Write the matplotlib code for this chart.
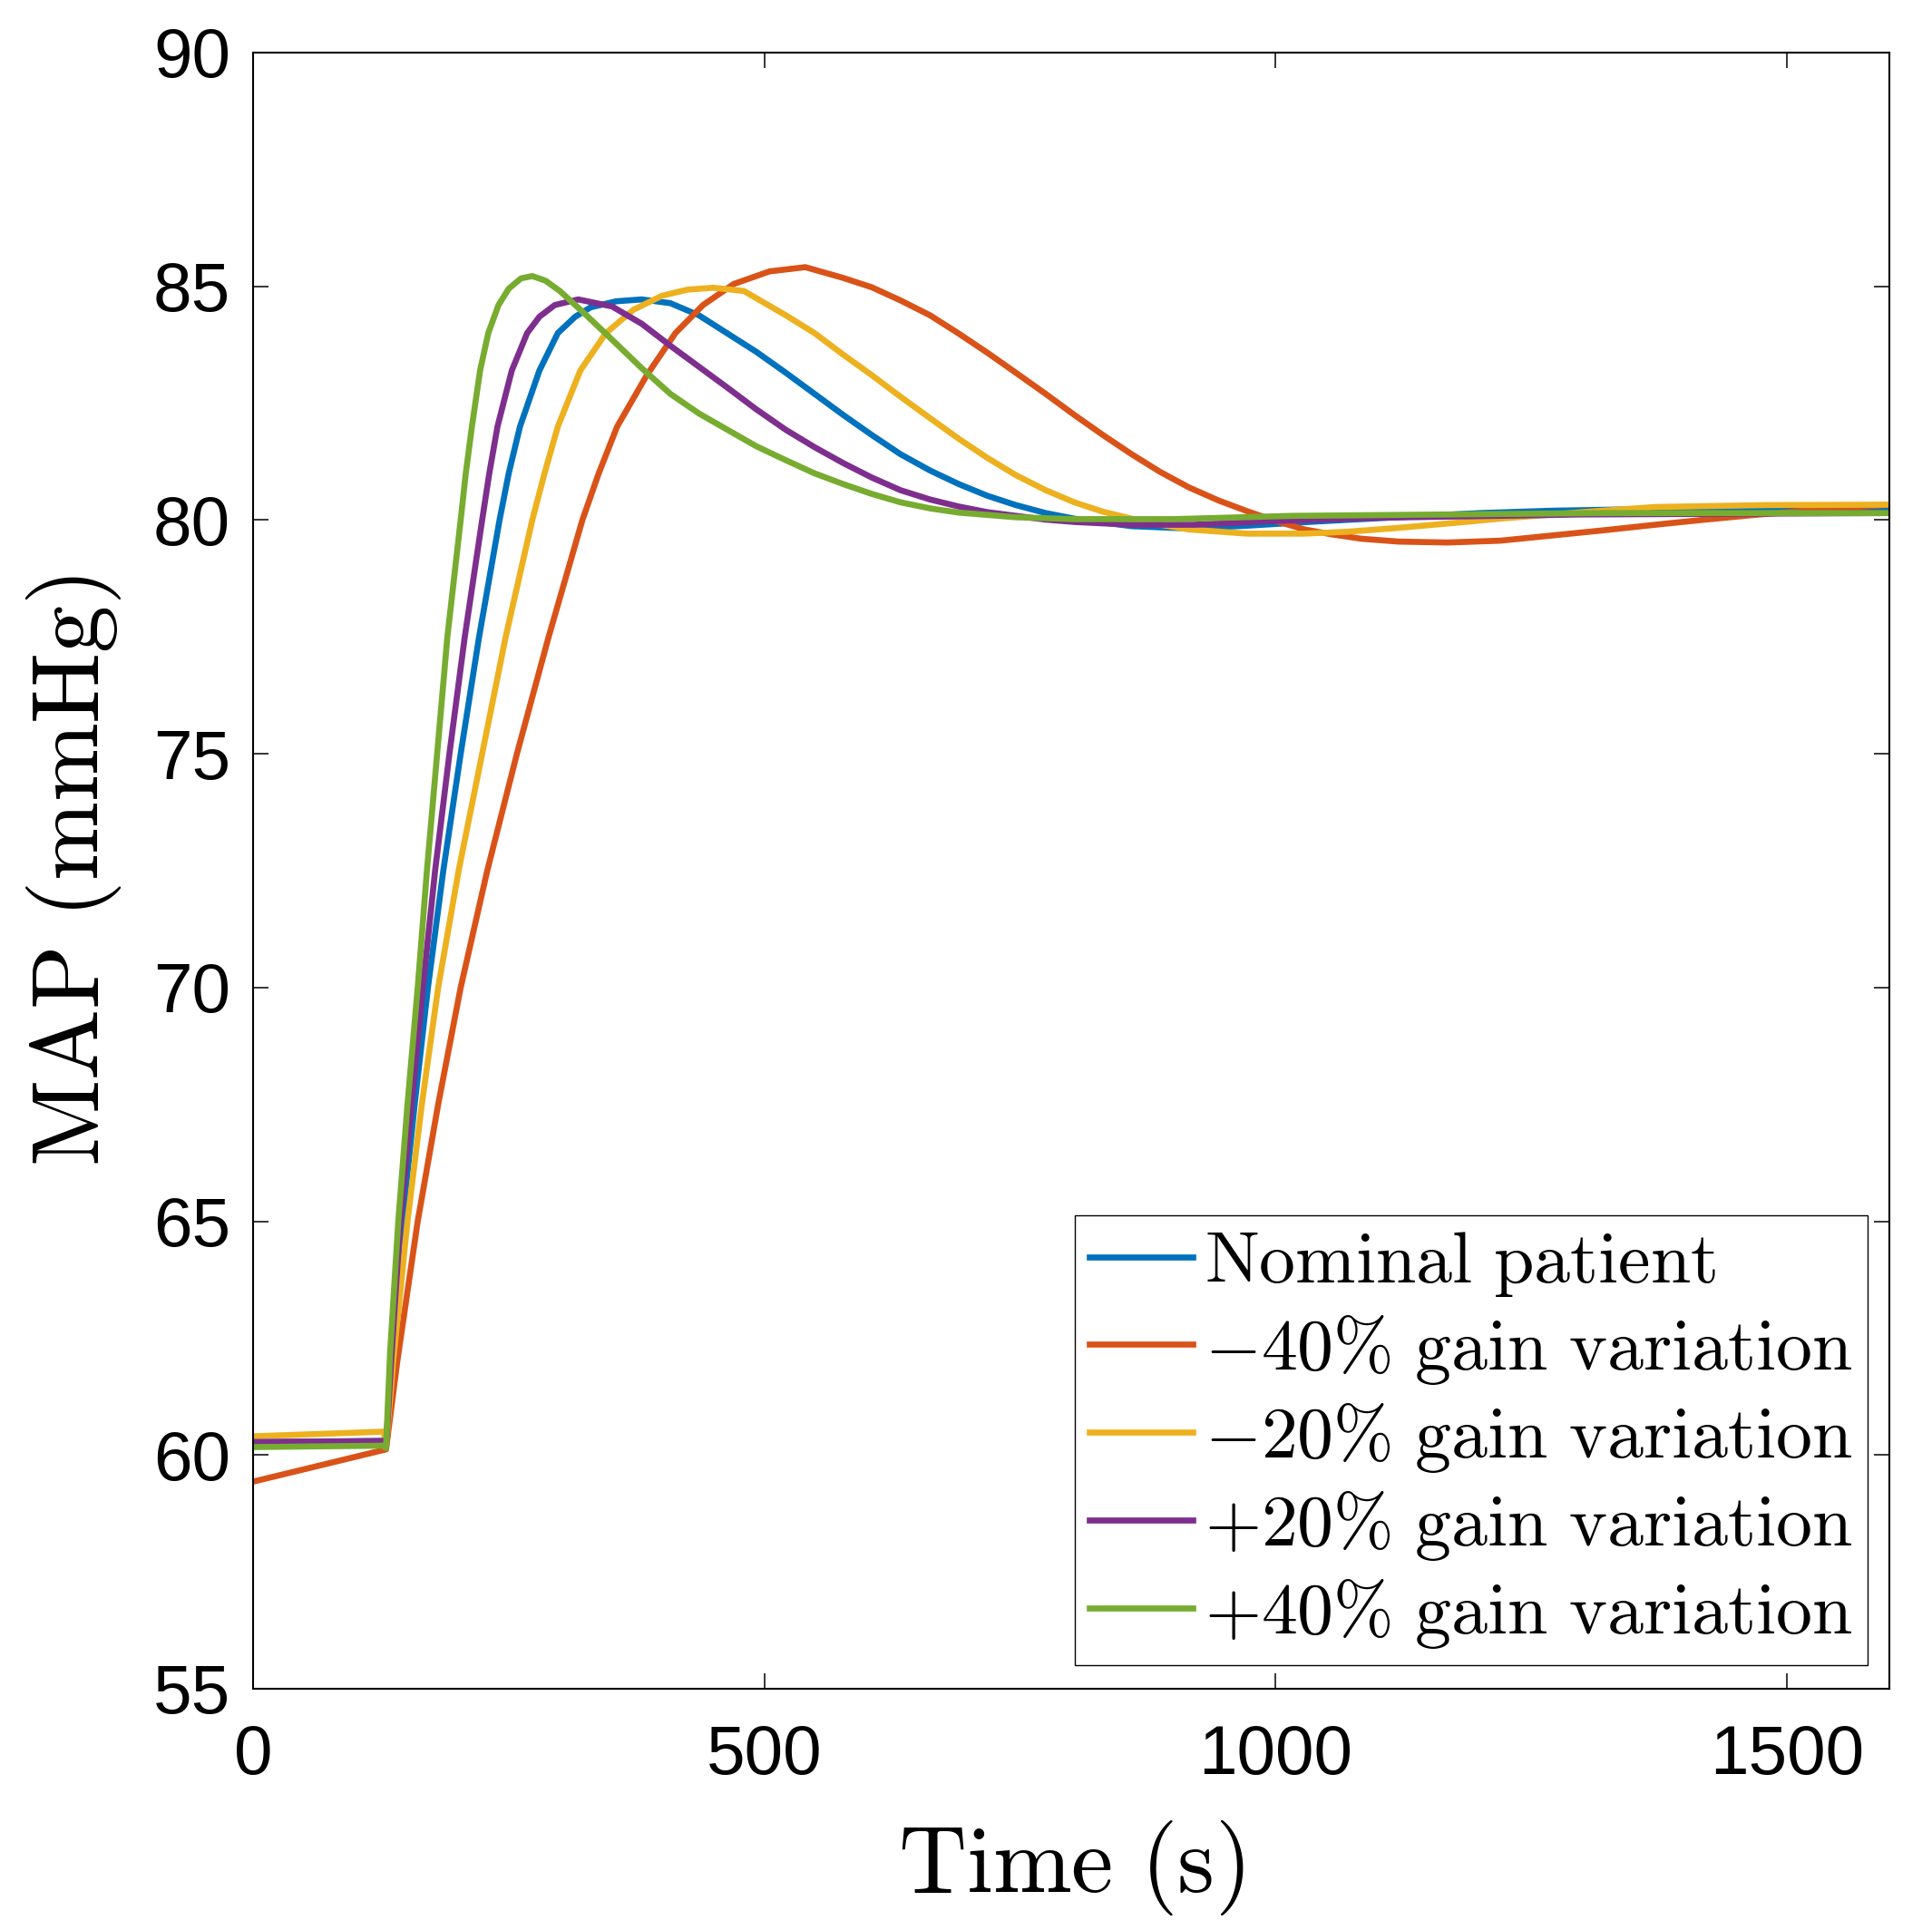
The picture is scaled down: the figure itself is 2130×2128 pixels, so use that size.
import numpy as np
import matplotlib
matplotlib.use('Agg')
import matplotlib.pyplot as plt

# --- valori (tempo in s, MAP in mmHg) ---
t_nom = [0, 128, 130, 136, 146, 158, 171, 186, 203, 221, 241, 250, 261, 280, 298, 315,
         330, 355, 380, 408, 436, 464, 492, 521, 549, 577, 605, 633, 662, 690, 718, 746,
         775, 803, 859, 915, 972, 1040, 1118, 1200, 1270, 1400, 1600]
map_nom = [60.27, 60.3, 60.15, 62.0, 65.0, 67.5, 70.0, 72.5, 75.0, 77.5, 80.0, 81.0, 82.0,
           83.2, 84.0, 84.35, 84.55, 84.68, 84.72, 84.64, 84.38, 83.99, 83.6, 83.15, 82.7,
           82.25, 81.82, 81.41, 81.06, 80.77, 80.52, 80.32, 80.15, 80.03, 79.87, 79.82,
           79.88, 79.97, 80.06, 80.15, 80.2, 80.25, 80.25]

t_m40 = [0, 130, 141, 161, 181, 203, 229, 258, 289, 322, 338, 356, 385, 413, 440, 470,
         505, 540, 577, 605, 633, 662, 690, 718, 746, 775, 803, 831, 859, 887, 915, 944,
         972, 1000, 1028, 1056, 1084, 1120, 1168, 1220, 1270, 1320, 1371, 1420, 1473,
         1540, 1600]
map_m40 = [59.43, 60.12, 62.0, 65.0, 67.5, 70.0, 72.5, 75.0, 77.5, 80.0, 81.0, 82.0, 83.1,
           84.0, 84.6, 85.05, 85.32, 85.41, 85.18, 84.98, 84.7, 84.38, 83.99, 83.58, 83.15,
           82.7, 82.25, 81.82, 81.41, 81.03, 80.7, 80.42, 80.19, 79.98, 79.8, 79.69, 79.6,
           79.54, 79.52, 79.56, 79.67, 79.78, 79.9, 80.01, 80.12, 80.24, 80.33]

t_m20 = [0, 128, 130, 137, 151, 165, 181, 201, 224, 247, 273, 285, 298, 320, 345, 372,
         400, 425, 450, 480, 521, 549, 577, 605, 633, 662, 690, 718, 746, 775, 803, 831,
         859, 887, 915, 972, 1028, 1070, 1118, 1170, 1219, 1300, 1371, 1480, 1600]
map_m20 = [60.4, 60.5, 60.15, 62.0, 65.0, 67.5, 70.0, 72.5, 75.0, 77.5, 80.0, 81.0, 82.0,
           83.2, 84.0, 84.5, 84.8, 84.93, 84.97, 84.9, 84.38, 84.0, 83.54, 83.1, 82.64,
           82.18, 81.74, 81.33, 80.96, 80.64, 80.38, 80.18, 80.03, 79.9, 79.8, 79.71, 79.71,
           79.75, 79.83, 79.93, 80.03, 80.17, 80.28, 80.32, 80.33]

t_p20 = [0, 128, 130, 135, 144, 155, 166, 178, 192, 207, 224, 231, 239, 253, 268, 280,
         295, 318, 351, 380, 408, 436, 464, 492, 521, 549, 577, 605, 633, 662, 690, 718,
         746, 775, 803, 859, 920, 1000, 1100, 1300, 1600]
map_p20 = [60.28, 60.3, 60.15, 62.0, 65.0, 67.5, 70.0, 72.5, 75.0, 77.5, 80.0, 81.0, 82.0,
           83.2, 84.0, 84.35, 84.6, 84.72, 84.57, 84.2, 83.73, 83.28, 82.83, 82.37, 81.93,
           81.56, 81.22, 80.91, 80.64, 80.44, 80.29, 80.17, 80.09, 80.01, 79.96, 79.9, 79.9,
           79.98, 80.05, 80.12, 80.15]

t_p40 = [0, 128, 130, 134, 142, 151, 161, 170, 180, 190, 203, 208, 214, 222, 230, 240,
         250, 262, 273, 286, 300, 325, 351, 380, 408, 436, 464, 492, 521, 549, 577, 605,
         633, 662, 690, 746, 803, 900, 1016, 1321, 1600]
map_p40 = [60.17, 60.2, 60.15, 62.2, 65.0, 67.5, 70.0, 72.5, 75.0, 77.5, 80.0, 81.0, 82.0,
           83.2, 84.0, 84.6, 84.95, 85.17, 85.22, 85.12, 84.9, 84.4, 83.86, 83.25, 82.7,
           82.28, 81.93, 81.58, 81.28, 81.0, 80.77, 80.56, 80.38, 80.25, 80.16, 80.06,
           80.02, 80.02, 80.09, 80.15, 80.15]

serie = [
    (t_nom, map_nom, '#0072BD', r'$\mathrm{Nominal\ patient}$'),
    (t_m40, map_m40, '#D95319', r'$-40\%\ \mathrm{gain\ variation}$'),
    (t_m20, map_m20, '#EDB120', r'$-20\%\ \mathrm{gain\ variation}$'),
    (t_p20, map_p20, '#7E2F8E', r'$+20\%\ \mathrm{gain\ variation}$'),
    (t_p40, map_p40, '#77AC30', r'$+40\%\ \mathrm{gain\ variation}$'),
]

x_ticks = [0, 500, 1000, 1500]
y_ticks = [55, 60, 65, 70, 75, 80, 85, 90]

plt.rcParams['mathtext.fontset'] = 'cm'
plt.rcParams['font.family'] = ['Liberation Sans', 'DejaVu Sans']

W, H = 2130, 2128
fig = plt.figure(figsize=(W / 100, H / 100), dpi=100)
ax = fig.add_axes([279 / W, 1 - 1862 / H, (2083 - 279) / W, (1862 - 58) / H])

for t, v, col, lab in serie:
    ax.plot(t, v, color=col, lw=4.8, label=lab, solid_joinstyle='round')

ax.set_xlim(0, 1600)
ax.set_ylim(55, 90)
ax.set_xticks(x_ticks)
ax.set_yticks(y_ticks)
ax.tick_params(direction='in', length=12, width=1.1, top=True, right=True,
               labelsize=55)
ax.tick_params(axis='x', pad=28)
ax.tick_params(axis='y', pad=18)
for s in ax.spines.values():
    s.set_linewidth(1.5)

ax.set_xlabel(r'$\mathrm{Time\ (s)}$', fontsize=75)
ax.set_ylabel(r'$\mathrm{MAP\ (mmHg)}$', fontsize=75)
ax.xaxis.set_label_coords(0.5, -0.079)
ax.yaxis.set_label_coords(-0.079, 0.5)

leg = ax.legend(loc='lower right', bbox_to_anchor=(2059 / W, 1 - 1836 / H),
                bbox_transform=fig.transFigure, borderaxespad=0, fontsize=57.5,
                handlelength=1.42, handletextpad=0.17, labelspacing=0.2,
                borderpad=0.2, fancybox=False, framealpha=1)
leg.get_frame().set_edgecolor('black')
leg.get_frame().set_linewidth(1.0)

fig.savefig('out.png', dpi=100)
